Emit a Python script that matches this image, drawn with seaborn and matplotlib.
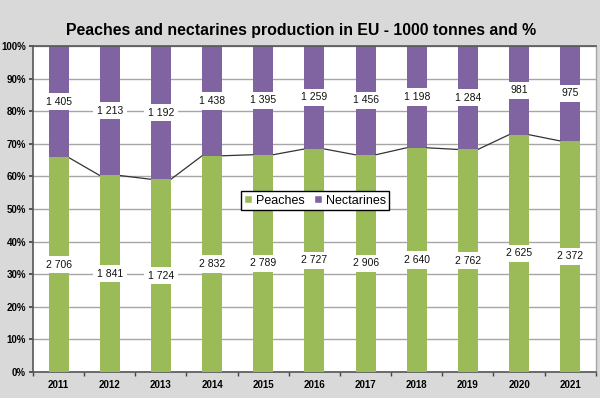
import matplotlib
matplotlib.use("Agg")
import matplotlib.pyplot as plt
import seaborn as sns
import pandas as pd
import numpy as np
from matplotlib.patches import Patch

years = ["2011", "2012", "2013", "2014", "2015", "2016", "2017", "2018", "2019", "2020", "2021"]
peaches = [2706, 1841, 1724, 2832, 2789, 2727, 2906, 2640, 2762, 2625, 2372]
nectarines = [1405, 1213, 1192, 1438, 1395, 1259, 1456, 1198, 1284, 981, 975]

GREEN = "#9BBB59"
PURPLE = "#8064A2"
BG = "#D9D9D9"

sns.set_theme(style="white")
plt.rcParams["font.family"] = ["Liberation Sans", "DejaVu Sans"]
plt.rcParams["text.color"] = "black"
plt.rcParams["xtick.color"] = "black"
plt.rcParams["ytick.color"] = "black"

df = pd.DataFrame({"year": years, "peaches": peaches, "nectarines": nectarines})
df["total"] = df["peaches"] + df["nectarines"]
df["p_share"] = df["peaches"] / df["total"] * 100
df["full"] = 100.0

fig = plt.figure(figsize=(6.0, 3.98), dpi=100, facecolor=BG)
ax = fig.add_axes([0.055, 0.0653, 0.938, 0.8191])
ax.set_facecolor("white")

bw = 0.39
sns.barplot(data=df, x="year", y="full", color=PURPLE, width=bw, saturation=1, ax=ax, zorder=2, edgecolor="none")
sns.barplot(data=df, x="year", y="p_share", color=GREEN, width=bw, saturation=1, ax=ax, zorder=3, edgecolor="none")

# series lines
shares = df["p_share"].values
for i in range(len(years) - 1):
    ax.plot([i + bw / 2, i + 1 - bw / 2], [shares[i], shares[i + 1]], color="#333333", lw=0.9, zorder=2.5)

def fmt(v):
    return f"{v:,}".replace(",", " ")

for i in range(len(years)):
    ps = shares[i]
    ax.text(i, ps / 2, fmt(peaches[i]), ha="center", va="center", fontsize=7.5, color="#111111", zorder=5,
            bbox=dict(boxstyle="square,pad=0.35", fc="white", ec="none"))
    ax.text(i, ps + (100 - ps) / 2, fmt(nectarines[i]), ha="center", va="center", fontsize=7.5, color="#111111", zorder=5,
            bbox=dict(boxstyle="square,pad=0.35", fc="white", ec="none"))

ax.set_ylim(0, 100)
ax.set_xlim(-0.5, len(years) - 0.5)
ax.set_yticks(np.arange(0, 101, 10))
ax.set_yticklabels([f"{v}%" for v in range(0, 101, 10)], fontsize=7, fontweight="bold")
ax.set_xticks(range(len(years)))
ax.set_xticklabels(years, fontsize=7, fontweight="bold")
ax.set_xticks(np.arange(-0.5, len(years), 1), minor=True)
ax.tick_params(axis="x", which="major", length=0, pad=6)
ax.tick_params(axis="x", which="minor", length=3, direction="out", color="#444444", bottom=True)
ax.tick_params(axis="y", length=3, direction="out", color="#444444", left=True, pad=2)
ax.yaxis.grid(True, color="#A6A6A6", lw=1, zorder=0)
ax.set_axisbelow(True)
ax.set_xlabel("")
ax.set_ylabel("")
for s in ["left", "bottom"]:
    ax.spines[s].set_color("#555555")
    ax.spines[s].set_linewidth(1.2)
ax.spines["top"].set_color("#555555")
ax.spines["top"].set_linewidth(1.2)
ax.spines["right"].set_color("#A6A6A6")
ax.spines["right"].set_linewidth(1)

handles = [Patch(facecolor=GREEN, label="Peaches"), Patch(facecolor=PURPLE, label="Nectarines")]
leg = ax.legend(handles=handles, loc="center", bbox_to_anchor=(0.501, 0.526), ncol=2, fontsize=9,
                frameon=True, fancybox=False, edgecolor="black", framealpha=1, handlelength=0.6,
                handleheight=0.6, handletextpad=0.3, columnspacing=0.8, borderpad=0.3)
leg.get_frame().set_linewidth(1)
leg.set_zorder(6)

fig.text(0.502, 0.924, "Peaches and nectarines production in EU - 1000 tonnes and %", ha="center", va="center",
         fontsize=11.4, fontweight="bold", color="black")

fig.savefig("out.png", dpi=100, facecolor=BG)
